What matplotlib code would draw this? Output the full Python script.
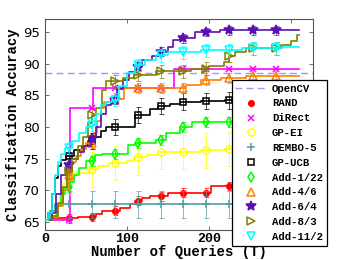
import numpy as np
import matplotlib
matplotlib.use("Agg")
import matplotlib.pyplot as plt
from matplotlib.lines import Line2D

# step curves: (T where a new value starts, value)
t_end = 310
mark_t = [29, 57, 85, 113, 141, 169, 197, 225, 254, 282]
opencv_acc = 88.5

rand_t = [0, 8, 40, 62, 70, 92, 104, 110, 118, 128, 150, 202, 240, 270]
rand_y = [65.3, 65.6, 65.8, 66.3, 66.8, 67.2, 67.8, 68.4, 68.8, 69.1, 69.6, 70.7, 71.0, 71.3]

direct_t = [0, 30, 59, 158]
direct_y = [65.3, 83.0, 86.1, 89.2]

gpei_t = [0, 10, 14, 18, 22, 26, 32, 55, 65, 78, 100, 108, 125, 138, 190, 220, 270]
gpei_y = [65.3, 65.8, 67.5, 69.5, 71.0, 72.0, 72.8, 73.3, 73.8, 74.3, 74.6, 75.2, 75.6, 76.0, 76.3, 76.5, 76.8]

rembo_t = [0, 6, 12]
rembo_y = [65.3, 66.8, 67.8]

ucb_t = [0, 4, 8, 12, 16, 20, 26, 35, 45, 52, 60, 68, 75, 110, 128, 138, 152, 165, 190, 220]
ucb_y = [65.3, 66.5, 69.5, 72.0, 73.8, 74.8, 75.5, 76.3, 77.0, 77.8, 78.5, 79.3, 80.0, 81.9, 82.9, 83.3, 83.7, 84.0, 84.1, 84.2]

add1_t = [0, 10, 15, 20, 25, 30, 36, 42, 50, 61, 69, 101, 110, 135, 148, 165, 179]
add1_y = [65.3, 66.0, 67.5, 69.5, 70.5, 71.4, 72.5, 73.5, 74.6, 75.6, 75.8, 77.2, 77.5, 78.0, 79.0, 80.0, 80.8]

add4_t = [0, 10, 16, 22, 28, 33, 38, 44, 50, 60, 64, 68, 72, 80, 97, 172, 190, 215, 245]
add4_y = [65.3, 65.8, 67.5, 70.0, 72.5, 74.5, 75.5, 76.5, 77.5, 79.0, 81.0, 83.0, 84.0, 84.5, 86.2, 86.6, 87.4, 87.7, 88.0]

add6_t = [0, 8, 14, 20, 26, 32, 40, 48, 56, 62, 68, 74, 80, 88, 95, 102, 110, 118, 130, 140, 150, 156, 165, 183, 213]
add6_y = [65.3, 66.5, 69.5, 72.5, 74.0, 75.0, 76.0, 77.0, 78.3, 80.0, 82.0, 83.5, 84.3, 86.0, 87.5, 88.7, 89.5, 90.6, 91.2, 91.9, 92.6, 93.7, 94.0, 95.0, 95.3]

add8_t = [0, 10, 16, 22, 27, 33, 40, 46, 52, 57, 62, 69, 75, 95, 108, 135, 178, 200, 218, 224, 232, 245, 288, 300, 308]
add8_y = [65.3, 66.0, 68.0, 70.5, 73.0, 75.0, 77.0, 78.5, 80.6, 81.9, 83.0, 85.8, 87.2, 87.8, 88.2, 88.8, 89.2, 89.6, 90.3, 91.2, 91.8, 92.4, 93.0, 93.5, 94.6]

add11_t = [0, 4, 8, 12, 16, 20, 25, 33, 42, 50, 57, 62, 68, 75, 82, 90, 100, 110, 122, 135, 150, 190, 240, 290]
add11_y = [65.3, 66.5, 69.5, 72.5, 74.5, 75.8, 76.7, 77.8, 79.0, 80.0, 80.4, 82.0, 83.5, 84.0, 84.3, 86.5, 88.5, 89.8, 90.6, 91.3, 91.8, 92.1, 92.4, 92.6]

names = ["RAND", "DiRect", "GP-EI", "REMBO-5", "GP-UCB",
         "Add-1/22", "Add-4/6", "Add-6/4", "Add-8/3", "Add-11/2"]
errs = [0.7, 0.0, 2.7, 2.1, 1.3, 0.8, 0.8, 0.7, 1.0, 1.0]
curves = [(rand_t, rand_y), (direct_t, direct_y), (gpei_t, gpei_y),
          (rembo_t, rembo_y), (ucb_t, ucb_y), (add1_t, add1_y),
          (add4_t, add4_y), (add6_t, add6_y), (add8_t, add8_y),
          (add11_t, add11_y)]

colors = ["#ff0000", "#ff00ff", "#ffff00", "#4f9fa0", "#000000",
          "#00ff00", "#ff8000", "#5a10b0", "#808000", "#00ffff"]
markers = ["o", "x", "o", "+", "s", "d", "^", "*", ">", "v"]
filled = [True, True, False, True, False, False, False, True, False, False]
msizes = [4.0, 4.0, 5.2, 5.5, 4.3, 5.2, 5.2, 7.0, 5.2, 5.2]

mono = "Liberation Mono"

fig = plt.figure(figsize=(3.45, 2.6), dpi=100)
ax = fig.add_axes([0.1304, 0.1154, 0.7768, 0.8115])

ax.axhline(opencv_acc, ls=(0, (5, 3)), color="#9999ff", lw=1.0, zorder=1)

for i, (tt, yy) in enumerate(curves):
    tt = np.asarray(tt, float)
    yy = np.asarray(yy, float)
    xs = np.append(tt, t_end)
    ys = np.append(yy, yy[-1])
    ax.step(xs, ys, where="post", color=colors[i], lw=1.2, zorder=2 + i)
    # value of the step curve at the marker positions
    idx = np.searchsorted(tt, mark_t, side="right") - 1
    my = yy[idx]
    ax.errorbar(mark_t, my, yerr=errs[i], fmt="none", ecolor=colors[i],
                elinewidth=0.7, capsize=1.8, capthick=0.7, alpha=0.7, zorder=2 + i)
    ax.plot(mark_t, my, ls="none", marker=markers[i], ms=msizes[i],
            color=colors[i], mfc=colors[i] if filled[i] else "none",
            mew=1.1, zorder=3 + i)

ax.set_xlim(0, 327)
ax.set_ylim(63.75, 97.05)
ax.set_xticks([0, 100, 200, 300])
ax.set_xticklabels(["0", "100", "200", ""])  # 300 sits under the legend
ax.set_yticks([65, 70, 75, 80, 85, 90, 95])
ax.tick_params(direction="in", top=True, right=True, length=3, width=0.6,
               color="#555555", labelsize=9.5)
ax.tick_params(axis="x", pad=2.5)
for lab in ax.get_xticklabels():
    lab.set_fontfamily(mono)
    lab.set_fontweight("bold")
for sp in ax.spines.values():
    sp.set_color("#555555")
    sp.set_linewidth(0.8)

ax.set_xlabel("Number of Queries (T)", fontfamily=mono, fontweight="bold",
              fontsize=10, labelpad=-0.5)
ax.set_ylabel("Classification Accuracy", fontfamily=mono, fontweight="bold",
              fontsize=10, labelpad=2)

handles = [Line2D([], [], ls=(0, (5, 3)), color="#9999ff", lw=1.0)]
for i in range(len(names)):
    handles.append(Line2D([], [], ls="none", marker=markers[i], ms=msizes[i],
                          color=colors[i],
                          mfc=colors[i] if filled[i] else "none", mew=1.1))
leg = fig.legend(handles, ["OpenCV"] + names, loc="lower right",
                 bbox_to_anchor=(0.962, 0.035), prop={"family": mono, "weight": "bold", "size": 7.7},
                 frameon=True, fancybox=False, edgecolor="black", framealpha=1,
                 borderpad=0.35, labelspacing=0.45, handlelength=2.9,
                 handletextpad=0.5)
leg.get_frame().set_linewidth(0.9)

fig.savefig("out.png", dpi=100)
